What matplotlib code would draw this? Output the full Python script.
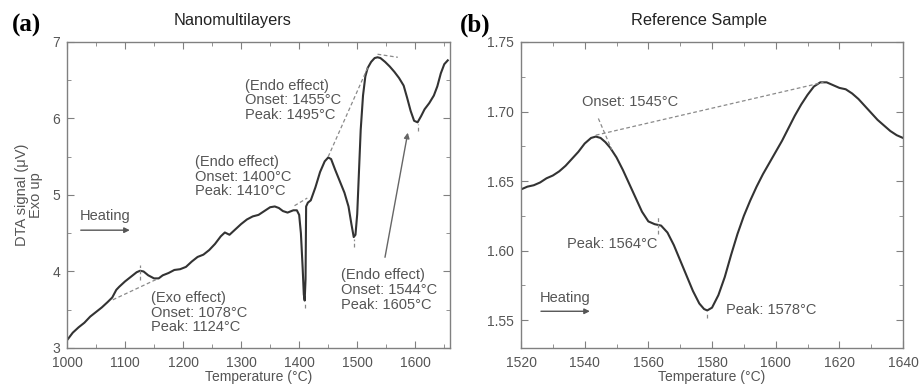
import matplotlib
matplotlib.use("Agg")
from matplotlib import pyplot as plt
from matplotlib.ticker import MultipleLocator

plt.rcParams['font.family'] = ['Liberation Sans', 'DejaVu Sans']

# panel (a): nanomultilayers
temp_a = [1000, 1010, 1020, 1030, 1040, 1050, 1060, 1070, 1078, 1085, 1090, 1100,
          1110, 1120, 1126, 1132, 1140, 1150, 1158, 1165, 1175, 1185, 1195, 1205,
          1215, 1225, 1235, 1245, 1255, 1265, 1272, 1280, 1290, 1300, 1310, 1320,
          1330, 1340, 1350, 1358, 1365, 1372, 1380, 1390, 1396, 1400, 1403, 1406,
          1408, 1409.5, 1411, 1412, 1415, 1420, 1428, 1436, 1444, 1450, 1455, 1462,
          1470, 1478, 1485, 1490, 1494, 1497, 1500, 1503, 1506, 1510, 1514, 1518,
          1524, 1530, 1535, 1540, 1548, 1556, 1564, 1572, 1580, 1586, 1592, 1598,
          1604, 1610, 1616, 1624, 1632, 1638, 1644, 1650, 1656]
dta_a = [3.10, 3.20, 3.27, 3.33, 3.41, 3.47, 3.53, 3.60, 3.66, 3.76, 3.80, 3.87,
         3.93, 3.99, 4.01, 4.00, 3.95, 3.91, 3.91, 3.95, 3.98, 4.02, 4.03, 4.06,
         4.13, 4.19, 4.22, 4.28, 4.36, 4.46, 4.51, 4.48, 4.55, 4.62, 4.68, 4.72,
         4.74, 4.79, 4.84, 4.85, 4.83, 4.79, 4.77, 4.80, 4.80, 4.74, 4.50, 4.05,
         3.70, 3.62, 3.90, 4.85, 4.90, 4.93, 5.10, 5.30, 5.44, 5.49, 5.47, 5.33,
         5.18, 5.03, 4.85, 4.62, 4.45, 4.48, 4.75, 5.30, 5.85, 6.30, 6.55, 6.66,
         6.74, 6.79, 6.80, 6.79, 6.74, 6.68, 6.61, 6.53, 6.43, 6.27, 6.10, 5.97,
         5.95, 6.03, 6.12, 6.20, 6.30, 6.42, 6.59, 6.71, 6.76]

# panel (b): reference sample
temp_b = [1520, 1522, 1524, 1526, 1528, 1530, 1532, 1534, 1536, 1538, 1540, 1542,
          1543.5, 1545, 1546.5, 1548, 1550, 1552, 1554, 1556, 1558, 1560, 1562, 1564,
          1566, 1568, 1570, 1572, 1574, 1576, 1577.5, 1578.5, 1580, 1582, 1584, 1586,
          1588, 1590, 1592, 1594, 1596, 1598, 1600, 1602, 1604, 1606, 1608, 1610,
          1612, 1614, 1616, 1618, 1620, 1622, 1624, 1626, 1628, 1630, 1632, 1634,
          1636, 1638, 1640]
dta_b = [1.644, 1.646, 1.647, 1.649, 1.652, 1.654, 1.657, 1.661, 1.666, 1.671, 1.677, 1.681,
         1.682, 1.681, 1.678, 1.674, 1.667, 1.658, 1.648, 1.638, 1.628, 1.621, 1.619, 1.618,
         1.613, 1.604, 1.593, 1.582, 1.571, 1.562, 1.558, 1.557, 1.559, 1.568, 1.581, 1.597,
         1.612, 1.625, 1.636, 1.646, 1.655, 1.663, 1.671, 1.679, 1.688, 1.697, 1.705, 1.712,
         1.718, 1.721, 1.721, 1.719, 1.717, 1.716, 1.713, 1.709, 1.704, 1.699, 1.694, 1.690,
         1.686, 1.683, 1.681]

line_col = '#333333'
dash_col = '#8a8a8a'
text_col = '#555555'
axis_col = '#808080'

fig = plt.figure(figsize=(9.21, 3.87), dpi=100)
ax1 = fig.add_axes([0.0727, 0.1008, 0.416, 0.7907])
ax2 = fig.add_axes([0.5657, 0.1008, 0.4148, 0.7907])


def style(ax):
    for s in ax.spines.values():
        s.set_color(axis_col)
        s.set_linewidth(1.0)
    ax.tick_params(which='both', direction='in', top=True, right=True,
                   colors=axis_col, labelcolor=text_col, labelsize=10)
    ax.tick_params(which='major', length=5)
    ax.tick_params(which='minor', length=3)
    ax.tick_params(axis='x', which='major', pad=6)
    ax.tick_params(axis='y', which='major', pad=5)
    ax.set_xlabel('Temperature (°C)', fontsize=10, color=text_col, labelpad=0)


def dash(ax, xs, ys):
    ax.plot(xs, ys, ls=(0, (3, 2)), color=dash_col, lw=0.9)


# ---- panel (a)
ax1.plot(temp_a, dta_a, color=line_col, lw=1.5)
ax1.set_xlim(1000, 1660)
ax1.set_ylim(3, 7)
ax1.xaxis.set_major_locator(MultipleLocator(100))
ax1.xaxis.set_minor_locator(MultipleLocator(50))
ax1.yaxis.set_major_locator(MultipleLocator(1))
ax1.yaxis.set_minor_locator(MultipleLocator(0.5))
style(ax1)
ax1.set_ylabel('DTA signal (μV)\nExo up', fontsize=10.5, color=text_col,
               linespacing=1.0)
ax1.yaxis.set_label_coords(-0.062, 0.5)

dash(ax1, [1079, 1155], [3.63, 3.90])
dash(ax1, [1126, 1126], [3.89, 4.08])
dash(ax1, [1409.5, 1409.5], [3.52, 3.59])
dash(ax1, [1392, 1414], [4.86, 4.96])
dash(ax1, [1450, 1519], [5.50, 6.68])
dash(ax1, [1535, 1570], [6.84, 6.80])
dash(ax1, [1495, 1495], [4.32, 4.43])
dash(ax1, [1605, 1605], [5.83, 5.93])

ax1.annotate('', xy=(1588, 5.85), xytext=(1547, 4.15),
             arrowprops=dict(arrowstyle='-|>', color='#666666', lw=1.0,
                             mutation_scale=8))
ax1.annotate('', xy=(1113, 4.54), xytext=(1019, 4.54),
             arrowprops=dict(arrowstyle='-|>', color='#555555', lw=1.0,
                             mutation_scale=8))
ax1.text(1022, 4.73, 'Heating', fontsize=10.5, color=text_col, va='center')

tkw = dict(fontsize=10.5, color=text_col, va='top', linespacing=1.05)
ax1.text(1307, 6.52, '(Endo effect)\nOnset: 1455°C\nPeak: 1495°C', **tkw)
ax1.text(1221, 5.52, '(Endo effect)\nOnset: 1400°C\nPeak: 1410°C', **tkw)
ax1.text(1145, 3.74, '(Exo effect)\nOnset: 1078°C\nPeak: 1124°C', **tkw)
ax1.text(1472, 4.04, '(Endo effect)\nOnset: 1544°C\nPeak: 1605°C', **tkw)

# ---- panel (b)
ax2.plot(temp_b, dta_b, color=line_col, lw=1.5)
ax2.set_xlim(1520, 1640)
ax2.set_ylim(1.53, 1.75)
ax2.xaxis.set_major_locator(MultipleLocator(20))
ax2.xaxis.set_minor_locator(MultipleLocator(10))
ax2.yaxis.set_major_locator(MultipleLocator(0.05))
ax2.yaxis.set_minor_locator(MultipleLocator(0.025))
ax2.yaxis.set_major_formatter(matplotlib.ticker.FormatStrFormatter('%.2f'))
style(ax2)

dash(ax2, [1543.5, 1615], [1.683, 1.721])
dash(ax2, [1544.3, 1548.5], [1.695, 1.6726])
dash(ax2, [1563.1, 1563.1], [1.612, 1.624])
dash(ax2, [1578.5, 1578.5], [1.5514, 1.556])

ax2.annotate('', xy=(1542.5, 1.5564), xytext=(1525.4, 1.5564),
             arrowprops=dict(arrowstyle='-|>', color='#555555', lw=1.0,
                             mutation_scale=8))
ax2.text(1525.8, 1.5662, 'Heating', fontsize=10.5, color=text_col, va='center')
ax2.text(1539.1, 1.7071, 'Onset: 1545°C', fontsize=10.5, color=text_col, va='center')
ax2.text(1534.4, 1.6048, 'Peak: 1564°C', fontsize=10.5, color=text_col, va='center')
ax2.text(1584.3, 1.5576, 'Peak: 1578°C', fontsize=10.5, color=text_col, va='center')

# titles and panel letters
fig.text(0.253, 0.946, 'Nanomultilayers', fontsize=11.8, ha='center', va='center', color='#222222')
fig.text(0.759, 0.946, 'Reference Sample', fontsize=11.8, ha='center', va='center', color='#222222')
fig.text(0.013, 0.935, '(a)', fontsize=18, fontweight='bold', family='Liberation Serif',
         va='center', ha='left')
fig.text(0.499, 0.935, '(b)', fontsize=18, fontweight='bold', family='Liberation Serif',
         va='center', ha='left')

fig.savefig('out.png', dpi=100)
